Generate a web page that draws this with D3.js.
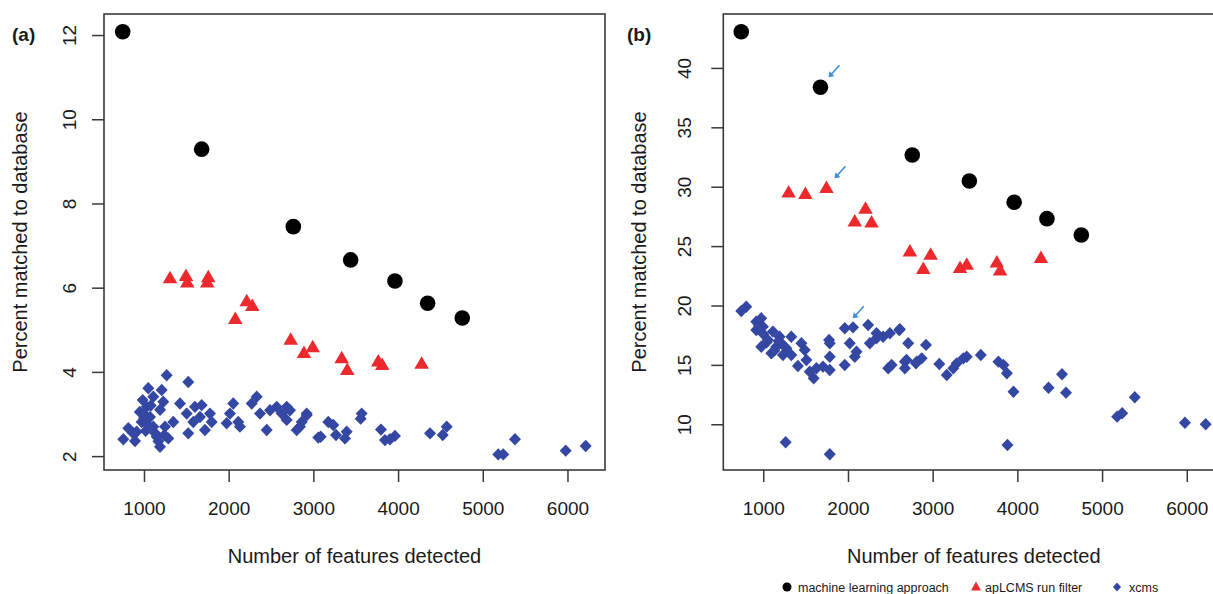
<!DOCTYPE html>
<html>
<head>
<meta charset="utf-8">
<script src="https://cdn.jsdelivr.net/npm/d3@7"></script>
<style>
  html, body { margin: 0; padding: 0; background: #fff; }
  svg { display: block; }
  text { font-family: "Liberation Sans", Arial, Helvetica, sans-serif; fill: #1a1a1a; }
</style>
</head>
<body>
<svg id="chart" width="1213" height="594"></svg>
<script>
// ---------------- DATA ----------------
const xTicks = [1000, 2000, 3000, 4000, 5000, 6000];
const yTicksA = [2, 4, 6, 8, 10, 12];
const yTicksB = [10, 15, 20, 25, 30, 35, 40];

// machine learning approach
const mlX = [749, 1681, 2763, 3440, 3963, 4349, 4758];
const mlA = [12.08, 9.29, 7.45, 6.66, 6.16, 5.63, 5.28];
const mlXB = [740, 1675, 2759, 3433, 3962, 4349, 4755];
const mlB = [43.05, 38.37, 32.67, 30.48, 28.69, 27.31, 25.93];

// apLCMS run filter
const apXA = [1307, 1496, 1511, 1759, 1747, 2213, 2279, 2078, 2732, 2889, 2992, 3334, 3400, 3766, 3813, 4278];
const apA  = [6.22, 6.27, 6.12, 6.24, 6.12, 5.67, 5.56, 5.25, 4.76, 4.44, 4.58, 4.32, 4.04, 4.24, 4.16, 4.19];
const apXB = [1299, 1497, 1746, 2207, 2080, 2278, 2731, 2976, 2889, 3323, 3402, 3757, 3796, 4278];
const apB  = [29.49, 29.36, 29.87, 28.12, 27.05, 26.97, 24.53, 24.25, 23.05, 23.13, 23.41, 23.6, 22.93, 23.97];

// xcms
const xcmsXA = [756, 815, 894, 914, 973, 992, 985, 1051, 1032, 1071, 1110, 1110, 1150, 1189, 1209, 1228, 1248, 1268, 1287,
  1346, 1425, 1523, 1504, 1523, 1582, 1602, 1661, 1681, 1720, 1779, 1799, 1976, 2015, 2054, 2113, 2133, 2272, 2331, 2370,
  2449, 2488, 2567, 2626, 2685, 2724, 2685, 2803, 2862, 2921, 3058, 2842, 2921, 3086, 3176, 3235, 3267, 3393, 3373, 3570,
  3558, 3798, 3845, 3904, 3963, 4377, 4527, 4574, 5183, 5242, 5380, 5979, 6215,
  1000, 1020, 950, 1080, 1130, 1170, 1240, 1040, 870, 1190];
const xcmsA = [2.40, 2.66, 2.36, 2.58, 2.81, 3.01, 3.33, 3.61, 3.17, 2.93, 3.41, 2.70, 2.46, 2.22, 3.57, 3.29, 2.70, 3.92, 2.42,
  2.81, 3.25, 3.76, 3.01, 2.54, 2.81, 3.17, 2.93, 3.21, 2.62, 3.01, 2.81, 2.78, 3.01, 3.25, 2.81, 2.70, 3.25, 3.41, 3.01,
  2.62, 3.09, 3.17, 3.01, 3.17, 3.09, 2.86, 2.62, 2.81, 3.01, 2.44, 2.70, 2.97, 2.46, 2.81, 2.74, 2.50, 2.58, 2.42, 3.01,
  2.89, 2.63, 2.38, 2.40, 2.48, 2.54, 2.50, 2.70, 2.04, 2.04, 2.40, 2.13, 2.24,
  2.90, 2.60, 3.05, 3.20, 2.55, 2.35, 2.50, 2.75, 2.55, 3.10];

const xcmsXB = [740, 799, 917, 976, 917, 996, 976, 1054, 1114, 1095, 1154, 1193, 1232, 1213, 1272, 1331, 1331, 1409, 1450,
  1489, 1509, 1548, 1595, 1627, 1705, 1785, 1785, 1777, 1785, 1962, 1962, 2060, 2021, 2101, 2080, 2238, 2258, 2337, 2337,
  2415, 2475, 2515, 2495, 2605, 2711, 2672, 2692, 2811, 1264, 1785, 2613, 2672, 2802, 2870, 2921, 3078, 3166, 3244, 3284,
  3362, 3402, 3568, 3776, 3836, 3876, 3954, 3883, 4368, 4527, 4574, 5178, 5237, 5386, 5978, 6223,
  1000, 1040, 1130, 1180, 950];
const xcmsB = [19.54, 19.90, 18.64, 18.92, 17.94, 18.22, 16.53, 17.10, 17.80, 15.98, 16.53, 17.37, 15.83, 16.82, 16.40, 17.37, 15.83, 14.91, 16.82,
  16.25, 15.41, 14.43, 13.87, 14.71, 14.85, 14.57, 15.69, 17.10, 16.82, 14.99, 18.08, 18.16, 16.82, 16.11, 15.69, 18.36, 16.82, 17.24, 17.66,
  17.37, 14.71, 14.99, 17.66, 17.94, 16.82, 14.71, 15.41, 15.27, 8.48, 7.47, 18.0, 15.27, 15.13, 15.55, 16.68, 15.08, 14.15, 14.71, 15.13,
  15.55, 15.69, 15.83, 15.27, 14.99, 14.29, 12.74, 8.26, 13.08, 14.21, 12.66, 10.64, 10.93, 12.27, 10.13, 10.0,
  17.6, 16.9, 16.2, 17.0, 18.3];

// annotation arrows in panel (b), pointing at these data points
const arrowXB = [1675, 1746, 1962];
const arrowYB = [38.37, 29.87, 18.08];

const legendLabels = ["machine learning approach", "apLCMS run filter", "xcms"];

// ---------------- STYLE ----------------
const BLACK = "#000000", RED = "#ec2a2e", BLUE = "#3447a3", ARROW = "#3d8fdb";
const AXIS = "#3a3a3a";

const svg = d3.select("#chart");

const xDomain = [528, 6443];
const panels = [
  { left: 104, top: 14, width: 501, height: 456, yDomain: [1.67, 12.5], yTicks: yTicksA, tickLabelOff: 28,
    yTitleX: 27, label: "(a)", labelX: 12,
    ml: [mlX, mlA], ap: [apXA, apA], xc: [xcmsXA, xcmsA] },
  { left: 723.3, top: 14, width: 501, height: 456, yDomain: [6.15, 44.54], yTicks: yTicksB, tickLabelOff: 32,
    yTitleX: 646, label: "(b)", labelX: 627,
    ml: [mlXB, mlB], ap: [apXB, apB], xc: [xcmsXB, xcmsB], arrows: [arrowXB, arrowYB] }
];

function triPath(w, h) {
  return `M0,${-h * 0.62}L${w / 2},${h * 0.38}L${-w / 2},${h * 0.38}Z`;
}
function diaPath(a, b) {
  return `M0,${-b}L${a},0L0,${b}L${-a},0Z`;
}

panels.forEach(p => {
  const x = d3.scaleLinear().domain(xDomain).range([p.left, p.left + p.width]);
  const y = d3.scaleLinear().domain(p.yDomain).range([p.top + p.height, p.top]);
  const bottom = p.top + p.height;

  const g = svg.append("g");

  // clip region for the data
  const clipId = "clip" + p.label.replace(/\W/g, "");
  svg.append("defs").append("clipPath").attr("id", clipId)
    .append("rect").attr("x", p.left).attr("y", p.top).attr("width", p.width).attr("height", p.height);

  // X axis
  const xAxis = d3.axisBottom(x).tickValues(xTicks).tickSize(12).tickPadding(6).tickFormat(d3.format("d"));
  const xa = g.append("g").attr("transform", `translate(0,${bottom})`).call(xAxis);
  xa.select(".domain").remove();
  xa.selectAll(".tick line").attr("stroke", AXIS).attr("stroke-width", 1.5);
  xa.selectAll(".tick text").attr("font-size", 19).attr("y", 0).attr("dy", 0)
    .attr("transform", "translate(0,45)").attr("fill", "#1a1a1a")
    .style("font-family", '"Liberation Sans", Arial, sans-serif');

  // Y axis
  const yAxis = d3.axisLeft(y).tickValues(p.yTicks).tickSize(12).tickFormat(d3.format("d"));
  const ya = g.append("g").attr("transform", `translate(${p.left},0)`).call(yAxis);
  ya.select(".domain").remove();
  ya.selectAll(".tick line").attr("stroke", AXIS).attr("stroke-width", 1.5);
  ya.selectAll(".tick text")
    .attr("x", null).attr("dy", null)
    .attr("transform", `translate(${-p.tickLabelOff},0) rotate(-90)`)
    .attr("text-anchor", "middle").attr("font-size", 19).attr("fill", "#1a1a1a")
    .style("font-family", '"Liberation Sans", Arial, sans-serif');

  // box
  g.append("rect").attr("x", p.left).attr("y", p.top).attr("width", p.width).attr("height", p.height)
    .attr("fill", "none").attr("stroke", AXIS).attr("stroke-width", 1.6);

  // axis titles
  g.append("text").attr("x", p.left + p.width / 2).attr("y", 563).attr("text-anchor", "middle")
    .attr("font-size", 20).text("Number of features detected");
  g.append("text").attr("transform", `translate(${p.yTitleX},${p.top + p.height / 2}) rotate(-90)`)
    .attr("text-anchor", "middle").attr("font-size", 20).text("Percent matched to database");

  // panel label
  g.append("text").attr("x", p.labelX).attr("y", 41).attr("font-size", 19).attr("font-weight", "bold")
    .text(p.label);

  const data = g.append("g").attr("clip-path", `url(#${clipId})`);

  // xcms diamonds
  data.selectAll("path.xc").data(p.xc[0].map((v, i) => [v, p.xc[1][i]])).join("path")
    .attr("class", "xc").attr("d", diaPath(6, 6.2)).attr("fill", BLUE)
    .attr("transform", d => `translate(${x(d[0])},${y(d[1])})`);

  // apLCMS triangles
  data.selectAll("path.ap").data(p.ap[0].map((v, i) => [v, p.ap[1][i]])).join("path")
    .attr("class", "ap").attr("d", triPath(14.5, 12.5)).attr("fill", RED)
    .attr("transform", d => `translate(${x(d[0])},${y(d[1])})`);

  // ML circles
  data.selectAll("circle.ml").data(p.ml[0].map((v, i) => [v, p.ml[1][i]])).join("circle")
    .attr("class", "ml").attr("r", 7.8).attr("fill", BLACK)
    .attr("cx", d => x(d[0])).attr("cy", d => y(d[1]));

  // arrows
  if (p.arrows) {
    p.arrows[0].forEach((v, i) => {
      const px = x(v), py = y(p.arrows[1][i]);
      const tx = px + 8, ty = py - 10, sx = px + 19, sy = py - 22;
      g.append("line").attr("x1", sx).attr("y1", sy).attr("x2", tx + 2).attr("y2", ty - 2)
        .attr("stroke", ARROW).attr("stroke-width", 1.6);
      g.append("path").attr("d", `M${tx},${ty}L${tx + 1},${ty - 6}L${tx + 6},${ty - 1}Z`)
        .attr("fill", ARROW);
    });
  }
});

// legend
const lg = svg.append("g").attr("font-size", 12.5);
const ly = 587;
lg.append("circle").attr("cx", 787).attr("cy", ly).attr("r", 4.5).attr("fill", BLACK);
lg.append("text").attr("x", 798).attr("y", ly + 4.5).text(legendLabels[0]);
lg.append("path").attr("d", triPath(10, 9)).attr("transform", `translate(976,${ly})`).attr("fill", RED);
lg.append("text").attr("x", 985).attr("y", ly + 4.5).text(legendLabels[1]);
lg.append("path").attr("d", diaPath(4, 4.5)).attr("transform", `translate(1117,${ly})`).attr("fill", BLUE);
lg.append("text").attr("x", 1129).attr("y", ly + 4.5).text(legendLabels[2]);
</script>
</body>
</html>
